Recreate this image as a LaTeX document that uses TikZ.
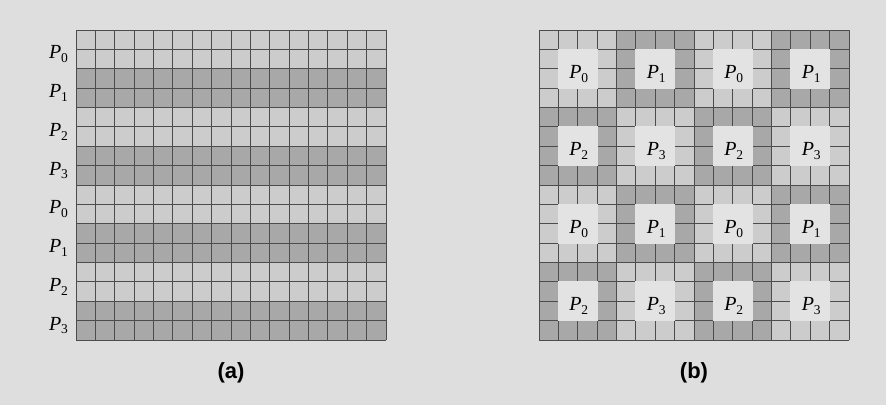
\documentclass[tikz,border=0pt]{standalone}
\usepackage{fontspec}
\setmainfont{Liberation Serif}
\newfontfamily\capfont{Liberation Sans}
\definecolor{bgc}{HTML}{DEDEDE}
\definecolor{lightc}{HTML}{CCCCCC}
\definecolor{darkc}{HTML}{A8A8A8}
\definecolor{boxc}{HTML}{E3E3E3}
\definecolor{linec}{HTML}{4C4C4C}
\newcommand\plab[1]{\textit{P}\kern-0.3pt\raisebox{-3.8pt}{\fontsize{13.5}{13.5}\selectfont #1}}
\tikzset{
  gl/.style={draw=linec, line width=0.9pt},
  plabel/.style={inner sep=0pt, font=\fontsize{20}{20}\selectfont},
  caplabel/.style={inner sep=0pt, font=\capfont\bfseries\fontsize{22}{22}\selectfont}
}
\begin{document}
\begin{tikzpicture}[x=1pt,y=-1pt]
\def\cs{19.375}
\fill[bgc] (0,0) rectangle (886,405);
\useasboundingbox (0,0) rectangle (886,405);
% ---------- (a) row-striped grid ----------
\foreach \r in {0,...,7} {
  \pgfmathtruncatemacro\parity{mod(\r,2)}
  \pgfmathtruncatemacro\proc{mod(\r,4)}
  \ifnum\parity=0 \def\fc{lightc}\else\def\fc{darkc}\fi
  \fill[\fc] (76,{30+2*\r*\cs}) rectangle (386,{30+(2*\r+2)*\cs});
  \node[plabel, anchor=base east] (la\r) at (68,{30+(2*\r+1)*\cs+9.5}) {\plab{\proc}};
}
\foreach \i in {0,...,16} {
  \draw[gl] ({76+\i*\cs},30) -- ({76+\i*\cs},340);
  \draw[gl] (76,{30+\i*\cs}) -- (386,{30+\i*\cs});
}
% ---------- (b) block-cyclic grid ----------
\foreach \bi in {0,...,3} {
  \foreach \bj in {0,...,3} {
    \pgfmathtruncatemacro\parity{mod(\bi+\bj,2)}
    \ifnum\parity=0 \def\fc{lightc}\else\def\fc{darkc}\fi
    \fill[\fc] ({539+4*\bj*\cs},{30+4*\bi*\cs}) rectangle ({539+(4*\bj+4)*\cs},{30+(4*\bi+4)*\cs});
  }
}
\foreach \i in {0,...,16} {
  \draw[gl] ({539+\i*\cs},30) -- ({539+\i*\cs},340);
  \draw[gl] (539,{30+\i*\cs}) -- (849,{30+\i*\cs});
}
\foreach \bi in {0,...,3} {
  \foreach \bj in {0,...,3} {
    \pgfmathtruncatemacro\proc{2*mod(\bi,2)+mod(\bj,2)}
    \fill[boxc] ({539+(4*\bj+1)*\cs-0.5},{30+(4*\bi+1)*\cs-0.5}) rectangle ({539+(4*\bj+3)*\cs+0.5},{30+(4*\bi+3)*\cs+0.5});
    \node[plabel, anchor=base] (lb\bi\bj) at ({539+(4*\bj+2)*\cs+1},{30+(4*\bi+2)*\cs+9.5}) {\plab{\proc}};
  }
}
% ---------- captions ----------
\node[caplabel] (capa) at (231,372.5) {(a)};
\node[caplabel] (capb) at (694,372.5) {(b)};
\end{tikzpicture}
\end{document}
